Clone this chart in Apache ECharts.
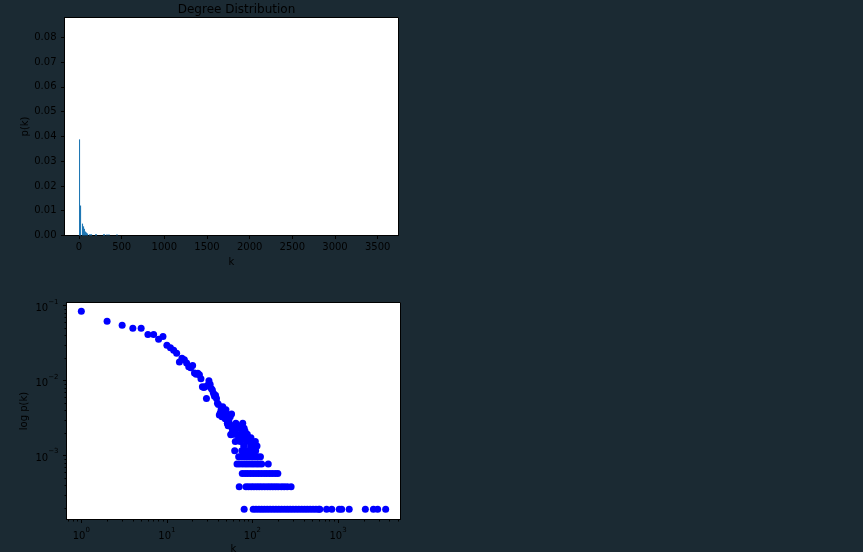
<!DOCTYPE html>
<html><head><meta charset="utf-8">
<script src="https://cdn.jsdelivr.net/npm/echarts@6/dist/echarts.min.js"></script>
<style>html,body{margin:0;padding:0;background:#1b2a33;}#c{width:863px;height:552px;}</style>
</head><body><div id="c"></div>
<script>
// ---------- Top: histogram (bin centre k, height p(k)) ----------
const histK = [6, 18, 41, 53, 64, 76, 88, 100, 123, 135, 147, 194, 205, 287, 299, 328, 351, 445];
const histP = [0.0388, 0.0121, 0.0048, 0.0037, 0.0027, 0.0016, 0.0012, 0.0008, 0.0005, 0.0005, 0.0005, 0.0005, 0.0005, 0.0005, 0.0005, 0.0005, 0.0005, 0.0005];
const histXTicks = [0, 500, 1000, 1500, 2000, 2500, 3000, 3500];
const histYTicks = [0, 0.01, 0.02, 0.03, 0.04, 0.05, 0.06, 0.07, 0.08];

// ---------- Bottom: log-log scatter ----------
const headK = [1,2,3,4,5,6,7,8,9,10,11,12,13,14,15,16,17,18,19,20,21,22,23,24,25,26,27,28,29,30,
  31,32,33,34,35,36,37,38,39,40,41,42,43,44,45,46,47,48,49,50,51,52,53,54,55,56,57,58,59,60];
const headP = [0.0841,0.0622,0.0548,0.0500,0.0500,0.0413,0.0413,0.0357,0.0390,0.0297,
  0.0276,0.0255,0.0232,0.0178,0.0199,0.0191,0.0172,0.0154,0.0149,0.0160,
  0.0127,0.0122,0.0126,0.0120,0.0106,0.0083,0.0081,0.0083,0.0058,0.0087,
  0.0100,0.0090,0.0079,0.0075,0.0068,0.0062,0.0064,0.0058,0.0050,0.0048,
  0.0035,0.0037,0.0041,0.0033,0.0045,0.0037,0.0035,0.0031,0.0041,0.0033,
  0.0027,0.0025,0.0029,0.0035,0.0033,0.0019,0.0036,0.0023,0.0025,0.0021];
// tail: degrees k sharing the same p(k) level
const tailLevels = [0.000193, 0.000386, 0.000579, 0.000772, 0.000965, 0.00116, 0.00135, 0.00154, 0.00174, 0.00193, 0.00212, 0.00232, 0.00251, 0.00270];
const tailK1 = [80,102,110,119,128,138,149,161,174,188,203,219,237,256,276,298,322,348,376,406,438,473,511,552,596,612,735,845,1034,1103,1351,2085,2592,2907,3605];
const tailK2 = [70,84,90,97,104,112,120,129,139,150,161,173,186,200,218,235,255,283];
const tailK3 = [76,82,88,95,102,110,118,127,137,147,158,170,184,198];
const tailK4 = [66,71,77,83,89,96,103,111,119,128,153];
const tailK5 = [69,74,80,86,92,99,107,115,124];
const tailK6 = [62,75,81,87,94,101,109];
const tailK7 = [79,95,104,113];
const tailK8 = [63,72,85,98,108];
const tailK9 = [69,78,90,96];
const tailK10 = [56,61,65,73,87];
const tailK11 = [60,76,82];
const tailK12 = [58,67,71,80];
const tailK13 = [59,68,74];
const tailK14 = [51,64,77];
const tailKs = [tailK1,tailK2,tailK3,tailK4,tailK5,tailK6,tailK7,tailK8,tailK9,tailK10,tailK11,tailK12,tailK13,tailK14];

const logXMajor = [1, 10, 100, 1000];
const logXMinor = [0.7,0.8,0.9,2,3,4,5,6,7,8,9,20,30,40,50,60,70,80,90,200,300,400,500,600,700,800,900,2000,3000,4000,5000];
const logYMajor = [0.001, 0.01, 0.1];
const logYMinor = [0.0002,0.0003,0.0004,0.0005,0.0006,0.0007,0.0008,0.0009,0.002,0.003,0.004,0.005,0.006,0.007,0.008,0.009,0.02,0.03,0.04,0.05,0.06,0.07,0.08,0.09];

const scatterData = headK.map((k, i) => [k, headP[i]]);
tailKs.forEach((ks, li) => ks.forEach(k => scatterData.push([k, tailLevels[li]])));

const FONT = 'DejaVu Sans';
const txt = {color: '#000', fontSize: 10, fontFamily: FONT};
const tick = (len) => ({show: true, length: len, lineStyle: {color: '#000', width: 1}});
const sup = {
  b: {fontSize: 10, fontFamily: FONT, color: '#000', lineHeight: 15, verticalAlign: 'bottom'},
  s: {fontSize: 7, fontFamily: FONT, color: '#000', lineHeight: 8, verticalAlign: 'top'}
};
const logFmt = v => {
  const e = Math.round(Math.log10(v));
  return '{b|10}{s|' + (e < 0 ? '\u2212' + (-e) : e) + '}';
};

const chart = echarts.init(document.getElementById('c'), null, {renderer: 'canvas'});
chart.setOption({
  backgroundColor: '#1b2a33',
  animation: false,
  title: {text: 'Degree Distribution', left: 231.5, top: -1.5, textAlign: 'center',
    textStyle: {color: '#000', fontSize: 12, fontWeight: 'normal', fontFamily: FONT}},
  grid: [
    {left: 64.5, top: 17.5, width: 334, height: 218, show: true, backgroundColor: '#fff', borderColor: '#000', borderWidth: 1, outerBoundsMode: 'none', containLabel: false},
    {left: 66.5, top: 302.5, width: 334, height: 217, show: true, backgroundColor: '#fff', borderColor: '#000', borderWidth: 1, outerBoundsMode: 'none', containLabel: false}
  ],
  xAxis: [
    {type: 'value', gridIndex: 0, min: -170, max: 3744, position: 'bottom',
     name: 'k', nameLocation: 'middle', nameGap: 22, nameTextStyle: txt,
     axisLine: {show: true, onZero: false, lineStyle: {color: '#000'}},
     axisTick: Object.assign(tick(3.5), {customValues: histXTicks}),
     axisLabel: Object.assign({margin: 7, customValues: histXTicks, formatter: v => String(v)}, txt),
     splitLine: {show: false}},
    {type: 'log', logBase: 10, gridIndex: 1, min: 0.671, max: 5373, position: 'bottom',
     name: 'k', nameLocation: 'middle', nameGap: 25, nameTextStyle: txt,
     axisLine: {show: true, onZero: false, lineStyle: {color: '#000'}},
     axisTick: Object.assign(tick(3.5), {customValues: logXMajor}),
     axisLabel: {margin: 7, customValues: logXMajor, formatter: logFmt, rich: sup},
     splitLine: {show: false}},
    {type: 'log', logBase: 10, gridIndex: 1, min: 0.671, max: 5373, position: 'bottom',
     axisLine: {show: false},
     axisTick: Object.assign(tick(2), {customValues: logXMinor}),
     axisLabel: {show: false}, splitLine: {show: false}}
  ],
  yAxis: [
    {type: 'value', gridIndex: 0, min: 0, max: 0.088, position: 'left',
     name: 'p(k)', nameLocation: 'middle', nameGap: 32, nameTextStyle: txt,
     axisLine: {show: true, onZero: false, lineStyle: {color: '#000'}},
     axisTick: Object.assign(tick(3.5), {customValues: histYTicks}),
     axisLabel: Object.assign({margin: 8, customValues: histYTicks, formatter: v => v.toFixed(2)}, txt),
     splitLine: {show: false}},
    {type: 'log', logBase: 10, gridIndex: 1, min: 0.0001409, max: 0.1104, position: 'left',
     name: 'log p(k)', nameLocation: 'middle', nameGap: 37, nameTextStyle: txt,
     axisLine: {show: true, onZero: false, lineStyle: {color: '#000'}},
     axisTick: Object.assign(tick(3.5), {customValues: logYMajor}),
     axisLabel: {margin: 8, customValues: logYMajor, formatter: logFmt, rich: sup},
     splitLine: {show: false}},
    {type: 'log', logBase: 10, gridIndex: 1, min: 0.0001409, max: 0.1104, position: 'left',
     axisLine: {show: false},
     axisTick: Object.assign(tick(2), {customValues: logYMinor}),
     axisLabel: {show: false}, splitLine: {show: false}}
  ],
  series: [
    {type: 'bar', xAxisIndex: 0, yAxisIndex: 0, barWidth: 1.1,
     data: histK.map((k, i) => [k, histP[i]]), itemStyle: {color: '#1f77b4'}},
    {type: 'scatter', xAxisIndex: 1, yAxisIndex: 1, symbol: 'circle', symbolSize: 7,
     data: scatterData, itemStyle: {color: '#0000ff', opacity: 1}}
  ]
});
</script></body></html>
